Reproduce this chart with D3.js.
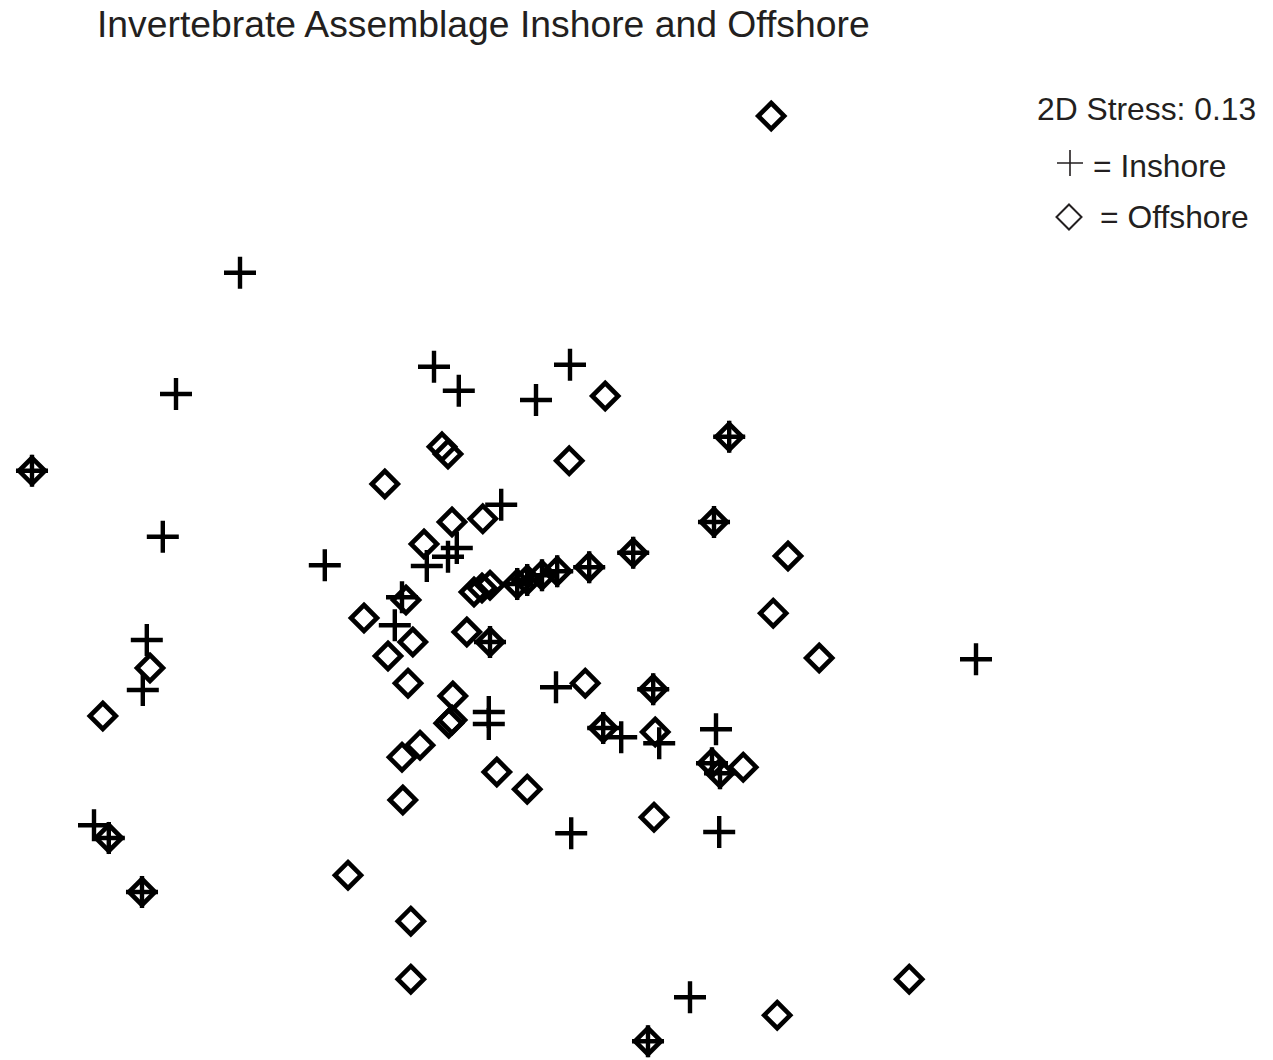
<!DOCTYPE html>
<html>
<head>
<meta charset="utf-8">
<script src="https://cdn.jsdelivr.net/npm/d3@7"></script>
<style>
  body { margin: 0; background: #fff; }
  text { font-family: "Liberation Sans", Arial, sans-serif; fill: #231f20; }
</style>
</head>
<body>
<svg id="chart" width="1273" height="1060"></svg>
<script>
// NMDS scores (axis 1, axis 2)
const inshore = [
  [-0.650, 0.718], [-0.810, 0.415], [-0.165, 0.483], [-0.103, 0.423], [0.175, 0.488],
  [0.090, 0.400], [-0.843, 0.058], [-1.170, 0.223], [-0.438, -0.013], [0.003, 0.138],
  [-0.108, 0.030], [-0.130, 0.008], [-0.183, -0.015], [-0.245, -0.093], [-0.263, -0.163],
  [0.043, -0.060], [0.068, -0.050], [0.105, -0.038], [0.143, -0.028], [0.223, -0.018],
  [0.333, 0.018], [0.573, 0.308], [0.535, 0.095], [-0.025, -0.205], [-0.883, -0.200],
  [-0.893, -0.325], [-1.015, -0.663], [-0.978, -0.695], [-0.895, -0.830], [1.190, -0.248],
  [0.140, -0.318], [-0.028, -0.380], [-0.028, -0.410], [0.383, -0.323], [0.258, -0.420],
  [0.303, -0.443], [0.398, -0.458], [0.540, -0.423], [0.530, -0.508], [0.550, -0.533],
  [0.178, -0.683], [0.548, -0.680], [0.475, -1.093], [0.370, -1.203]
];

const offshore = [
  [0.678, 1.110], [0.263, 0.410], [-0.145, 0.283], [-0.130, 0.265], [0.173, 0.248],
  [-0.288, 0.190], [-1.170, 0.223], [0.573, 0.308], [-0.120, 0.095], [-0.043, 0.103],
  [-0.190, 0.040], [0.535, 0.095], [0.333, 0.018], [0.720, 0.010], [0.683, -0.133],
  [0.798, -0.245], [-0.340, -0.145], [-0.235, -0.100], [-0.280, -0.240], [-0.218, -0.205],
  [-0.083, -0.180], [-0.025, -0.205], [-0.875, -0.270], [-0.993, -0.390], [-0.230, -0.308],
  [-0.118, -0.340], [-0.128, -0.408], [-0.120, -0.400], [-0.200, -0.463], [-0.245, -0.493],
  [-0.243, -0.600], [-0.008, -0.530], [0.068, -0.573], [0.213, -0.308], [0.383, -0.323],
  [0.258, -0.420], [0.388, -0.430], [0.530, -0.508], [0.550, -0.533], [0.608, -0.518],
  [0.385, -0.643], [-0.380, -0.788], [-0.223, -0.903], [-0.223, -1.048], [1.023, -1.048],
  [0.693, -1.138], [0.370, -1.203], [-0.065, -0.080], [-0.045, -0.070], [-0.025, -0.063],
  [0.043, -0.060], [0.068, -0.050], [0.105, -0.038], [0.143, -0.028], [0.223, -0.018],
  [-0.978, -0.695], [-0.895, -0.830]
];

const title = 'Invertebrate Assemblage Inshore and Offshore';
const stress = '2D Stress: 0.13';
const legendLabels = ['= Inshore', '= Offshore'];

const svg = d3.select('#chart');

const x = d3.scaleLinear().domain([-1.25, 1.25]).range([0, 1000]);
const y = d3.scaleLinear().domain([-1.25, 1.25]).range([1060, 60]);

// plus: arm half-length a; diamond: half-diagonal r
const plusPath = a => `M${-a},0H${a}M0,${-a}V${a}`;
const diamondPath = r => `M0,${-r}L${r},0L0,${r}L${-r},0Z`;

svg.append('text')
  .attr('x', 97).attr('y', 37)
  .style('font-size', '37.3px')
  .text(title);

svg.append('g').classed('offshore', true)
  .selectAll('path').data(offshore)
  .enter().append('path')
  .attr('transform', d => `translate(${x(d[0])},${y(d[1])})`)
  .attr('d', diamondPath(13))
  .attr('fill', 'none')
  .attr('stroke', '#000')
  .attr('stroke-width', 4.6);

svg.append('g').classed('inshore', true)
  .selectAll('path').data(inshore)
  .enter().append('path')
  .attr('transform', d => `translate(${x(d[0])},${y(d[1])})`)
  .attr('d', plusPath(16))
  .attr('fill', 'none')
  .attr('stroke', '#000')
  .attr('stroke-width', 4.4);

// legend
svg.append('text')
  .attr('x', 1037).attr('y', 120)
  .style('font-size', '31.8px')
  .text(stress);

svg.append('path')
  .attr('transform', 'translate(1070,163)')
  .attr('d', plusPath(13))
  .attr('fill', 'none').attr('stroke', '#231f20').attr('stroke-width', 1.6);
svg.append('text')
  .attr('x', 1093).attr('y', 177)
  .style('font-size', '31.8px')
  .text(legendLabels[0]);

svg.append('path')
  .attr('transform', 'translate(1069,217)')
  .attr('d', diamondPath(12.5))
  .attr('fill', 'none').attr('stroke', '#231f20').attr('stroke-width', 2);
svg.append('text')
  .attr('x', 1100).attr('y', 228)
  .style('font-size', '31.8px')
  .text(legendLabels[1]);
</script>
</body>
</html>
